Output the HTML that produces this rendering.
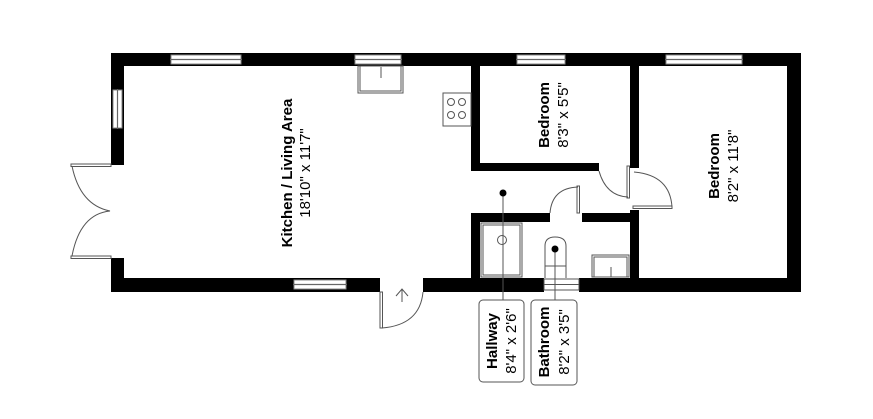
<!DOCTYPE html>
<html><head><style>body{margin:0;background:#fff}svg{display:block}</style></head><body>
<svg width="873" height="419" viewBox="0 0 873 419" xmlns="http://www.w3.org/2000/svg" font-family="Liberation Sans, sans-serif">
<g fill="#000">
<rect x="111" y="53" width="690" height="13"/>
<rect x="111" y="278" width="690" height="14"/>
<rect x="111" y="53" width="13" height="112"/>
<rect x="111" y="258" width="13" height="34"/>
<rect x="787" y="53" width="14" height="239"/>
<rect x="471" y="53" width="9" height="118"/>
<rect x="471" y="163" width="128" height="8"/>
<rect x="630" y="53" width="9" height="115"/>
<rect x="630" y="210" width="9" height="82"/>
<rect x="471" y="213" width="9" height="79"/>
<rect x="471" y="213" width="79" height="9"/>
<rect x="582" y="213" width="57" height="9"/>
</g>
<g fill="#fff">
<rect x="380" y="277" width="43" height="16"/>
<rect x="544" y="277" width="35" height="16"/>
</g>
<g fill="#fff" stroke="#888" stroke-width="1">
<rect x="171" y="55" width="70" height="9"/>
<rect x="355" y="55" width="46" height="9"/>
<rect x="517" y="55" width="48" height="9"/>
<rect x="666" y="55" width="76" height="9"/>
<rect x="294" y="280" width="52" height="9"/>
<rect x="113" y="90" width="9" height="38"/>
</g>
<g stroke="#666" fill="none" stroke-width="1.2">
<line x1="170" y1="59.5" x2="242" y2="59.5"/><line x1="354" y1="59.5" x2="402" y2="59.5"/>
<line x1="516" y1="59.5" x2="566" y2="59.5"/><line x1="665" y1="59.5" x2="743" y2="59.5"/>
<line x1="293" y1="284.5" x2="347" y2="284.5"/><line x1="117.5" y1="89" x2="117.5" y2="129"/>
</g>
<g stroke="#555" fill="none" stroke-width="1">
<rect x="71" y="164" width="40" height="2.5"/><rect x="71" y="256" width="40" height="2.5"/>
<path d="M72 166 Q80 205 110 211 Q80 214 72 256"/>
<rect x="380" y="292" width="2.5" height="36"/>
<path d="M382 328 Q420 325 423 292"/>
<path d="M396 296 L402 289 L408 296 M402 289 V302"/>
<rect x="358" y="66" width="45" height="27"/><rect x="360" y="66" width="41" height="25"/>
<line x1="381" y1="67" x2="381" y2="78"/>
<rect x="443" y="93" width="28" height="33"/>
<circle cx="451" cy="102" r="3.5"/><circle cx="462" cy="102" r="3.5"/>
<circle cx="451" cy="115" r="3.5"/><circle cx="462" cy="115" r="3.5"/>
<rect x="627" y="166" width="2.5" height="32"/>
<path d="M599 171 Q606 196 628 197"/>
<rect x="633" y="206" width="39" height="2.5"/>
<path d="M634 172 Q670 175 672 207"/>
<rect x="577" y="186" width="2.5" height="27"/>
<path d="M550 213 Q552 188 578 187"/>
<rect x="481" y="223" width="41" height="54"/><rect x="483" y="225" width="37" height="50"/>
<circle cx="502" cy="240" r="4.5"/>
<path d="M545 278 V246 Q545 237 555 237 Q566 237 566 246 V278"/>
<line x1="545" y1="266" x2="566" y2="266"/>
<rect x="544" y="279" width="35" height="11"/><line x1="544" y1="284.5" x2="579" y2="284.5"/>
<rect x="592" y="255" width="37" height="22"/><rect x="594" y="257" width="33" height="20"/>
<line x1="611" y1="267" x2="611" y2="277"/>
<line x1="503" y1="193" x2="503" y2="300"/><line x1="555" y1="249" x2="555" y2="300"/>
</g>
<circle cx="503" cy="193" r="3.5"/><circle cx="555" cy="249" r="3.5"/>
<rect x="479" y="300" width="45" height="82" rx="4" fill="#fff" stroke="#555"/>
<rect x="531" y="300" width="46" height="85" rx="4" fill="#fff" stroke="#555"/>
<g text-anchor="middle" font-size="15">
<text transform="translate(292,173) rotate(-90)" font-weight="bold">Kitchen / Living Area</text>
<text transform="translate(310,173) rotate(-90)">18'10" x 11'7"</text>
<text transform="translate(549,115) rotate(-90)" font-weight="bold">Bedroom</text>
<text transform="translate(568,115) rotate(-90)">8'3" x 5'5"</text>
<text transform="translate(719,166) rotate(-90)" font-weight="bold">Bedroom</text>
<text transform="translate(738,166) rotate(-90)">8'2" x 11'8"</text>
<text transform="translate(497,341) rotate(-90)" font-weight="bold">Hallway</text>
<text transform="translate(516,341) rotate(-90)">8'4" x 2'6"</text>
<text transform="translate(549,342) rotate(-90)" font-weight="bold">Bathroom</text>
<text transform="translate(569,342) rotate(-90)">8'2" x 3'5"</text>
</g>
</svg>
</body></html>
